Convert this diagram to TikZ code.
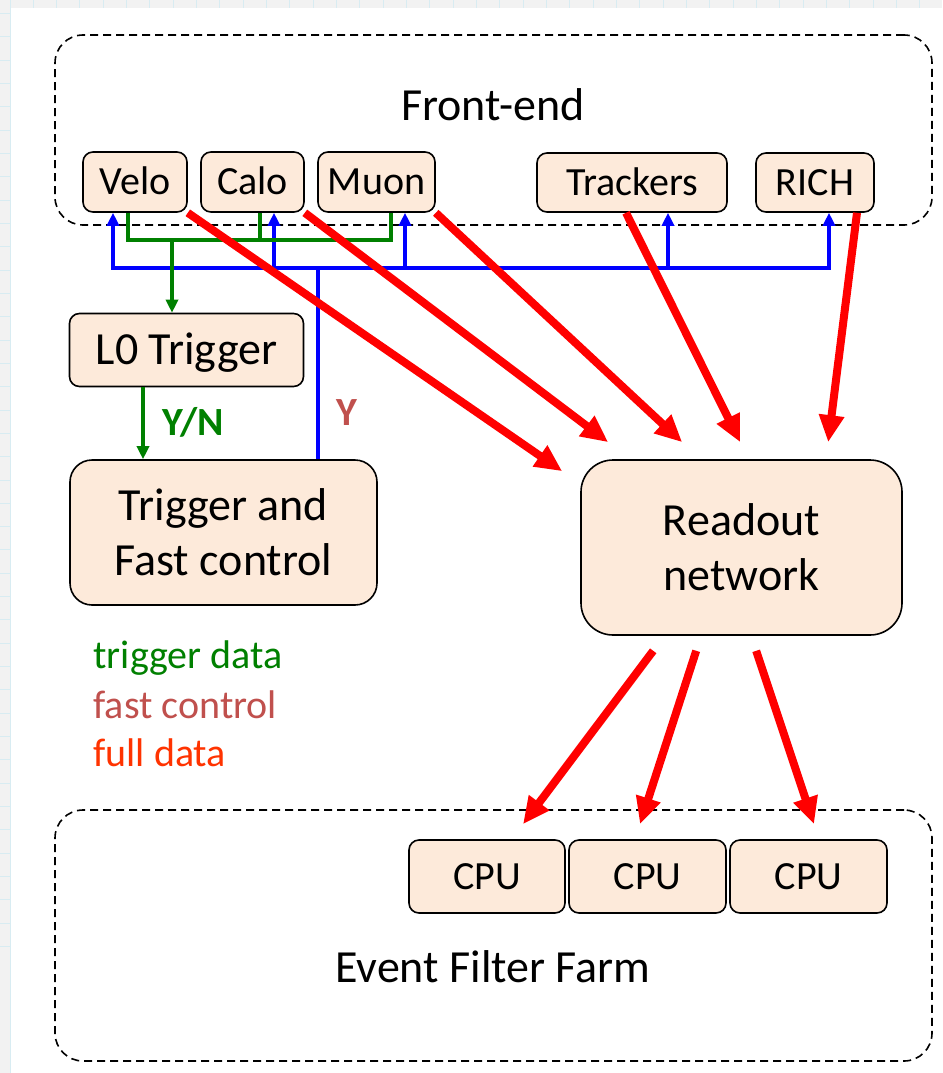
\documentclass[tikz,border=0pt]{standalone}
\usepackage{fontspec}
\setmainfont{Carlito}
\usetikzlibrary{arrows.meta}
\definecolor{boxfill}{HTML}{FDEADA}
\definecolor{bggray}{HTML}{F2F2F2}
\definecolor{gridc}{HTML}{D8ECF2}
\definecolor{trgreen}{HTML}{008000}
\definecolor{fastc}{HTML}{C0504D}
\definecolor{fullc}{HTML}{FF3300}
\definecolor{busblue}{HTML}{0000FF}
\tikzset{
  box/.style={draw=black, line width=1.6pt, fill=boxfill, rounded corners=10pt, inner sep=0pt,
    font=\fontsize{40}{48}\selectfont, text height=25.8pt, text depth=0pt},
  bigbox/.style={draw=black, line width=1.6pt, fill=boxfill, inner sep=0pt, align=center,
    font=\fontsize{46}{55}\selectfont},
  container/.style={draw=black, line width=1.6pt, dash pattern=on 8pt off 5pt, rounded corners=28pt, inner sep=0pt},
  heading/.style={font=\fontsize{46}{55}\selectfont, anchor=base},
  legend/.style={font=\fontsize{40}{48}\selectfont, anchor=base west},
  redarr/.style={draw=red, line width=8pt, -{Triangle[length=27pt,width=24pt]}},
  blueline/.style={draw=busblue, line width=3.5pt},
  greenline/.style={draw=trgreen, line width=3.5pt},
  smalltip/.tip={Triangle[length=13pt,width=12pt]},
}
\begin{document}
\begin{tikzpicture}[x=1pt,y=-1pt]
\useasboundingbox (0,0) rectangle (942,1073);
\begin{scope}
\clip (0,0) rectangle (942,1073);
% background
\fill[bggray] (0,0) rectangle (942,1073);
\foreach \i in {0,...,40} {
  \draw[gridc, line width=1pt] ({10+23.33*\i},0) -- ({10+23.33*\i},1073);
  \draw[gridc, line width=1pt] (0,{13.4+23.33*\i}) -- (942,{13.4+23.33*\i});
}
\fill[white] (11,8) rectangle (942,1073);
\end{scope}

% containers
\node[container, minimum width=877pt, minimum height=190pt] (fe) at (493.5,130) {};
\node[container, minimum width=877pt, minimum height=251pt] (eff) at (493.5,935.5) {};
\node[heading] (fetext) at (493,120) {Front-end};
\node[heading] (efftext) at (493,982) {Event Filter Farm};

% front-end boxes
\node[box, minimum width=104pt, minimum height=60pt] (velo) at (135,182) {Velo};
\node[box, minimum width=103pt, minimum height=60pt] (calo) at (252.5,182) {Calo};
\node[box, minimum width=117pt, minimum height=60pt] (muon) at (376.5,182) {Muon};
\node[box, minimum width=190pt, minimum height=59pt] (trk) at (632,182.5) {Trackers};
\node[box, minimum width=118pt, minimum height=59pt] (rich) at (815,182.5) {RICH};

% trigger boxes
\node[box, minimum width=234pt, minimum height=73pt, font=\fontsize{46}{55}\selectfont, text height=29.6pt] (l0) at (186.5,350) {L0 Trigger};
\node[bigbox, rounded corners=22pt, minimum width=307pt, minimum height=145pt] (tfc) at (223.5,532.5) {Trigger and\\Fast control};
\node[bigbox, rounded corners=32pt, minimum width=321pt, minimum height=175pt] (ro) at (741.5,547.5) {Readout\\network};

% CPUs
\node[box, minimum width=156pt, minimum height=73pt] (cpu1) at (487,876.5) {CPU};
\node[box, minimum width=157pt, minimum height=73pt] (cpu2) at (647.5,876.5) {CPU};
\node[box, minimum width=157pt, minimum height=73pt] (cpu3) at (808.5,876.5) {CPU};

% bus levels
\coordinate (gbus) at (0,240);
\coordinate (bbus) at (0,268);

% blue fast-control bus
\draw[blueline, {smalltip}-{smalltip}] ([xshift=-22pt]velo.south) |- ([xshift=14pt]rich.south |- bbus) -- ([xshift=14pt]rich.south);
\draw[blueline, -{smalltip}] ([xshift=21.5pt]calo.south |- bbus) -- ([xshift=21.5pt]calo.south);
\draw[blueline, -{smalltip}] ([xshift=28.5pt]muon.south |- bbus) -- ([xshift=28.5pt]muon.south);
\draw[blueline, -{smalltip}] ([xshift=36pt]trk.south |- bbus) -- ([xshift=36pt]trk.south);
\draw[blueline] ([xshift=94.5pt]tfc.north) -- ([xshift=94.5pt]tfc.north |- bbus);

% green trigger data
\draw[greenline] ([xshift=-7pt]velo.south) |- ([xshift=14.5pt]muon.south |- gbus) -- ([xshift=14.5pt]muon.south);
\draw[greenline] ([xshift=7.5pt]calo.south) -- ([xshift=7.5pt]calo.south |- gbus);
\draw[greenline, -{smalltip}] ([xshift=-14.5pt]l0.north |- gbus) -- ([xshift=-14.5pt]l0.north);
\draw[greenline, -{smalltip}] ([xshift=-43.5pt]l0.south) -- ([xshift=-80.5pt]tfc.north);

\node[font=\bfseries\fontsize{40}{46}\selectfont, text=trgreen, anchor=base] (yn) at (193,435) {Y/N};
\node[font=\bfseries\fontsize{40}{46}\selectfont, text=fastc, anchor=base] (y) at (347,425) {Y};

% red full data
\draw[redarr] (velo.south east) -- ([shift={(-18,12)}]ro.north west);
\draw[redarr] (calo.south east) -- ([shift={(28,-17)}]ro.north west);
\draw[redarr] (muon.south east) -- ([shift={(102,-17)}]ro.north west);
\draw[redarr] ([xshift=-6pt]trk.south) -- ([shift={(160,-17)}]ro.north west);
\draw[redarr] ([xshift=42pt]rich.south) -- ([shift={(248,-17)}]ro.north west);

\draw[redarr] ([shift={(73,15)}]ro.south west) -- ([shift={(36,-15)}]cpu1.north);
\draw[redarr] ([shift={(116,15)}]ro.south west) -- ([shift={(-7.5,-15)}]cpu2.north);
\draw[redarr] ([shift={(176,15)}]ro.south west) -- ([shift={(5.5,-15)}]cpu3.north);

% legend
\node[legend, text=trgreen] (lg1) at (90,668) {trigger data};
\node[legend, text=fastc] (lg2) at (90,718) {fast control};
\node[legend, text=fullc] (lg3) at (90,766) {full data};
\end{tikzpicture}
\end{document}
